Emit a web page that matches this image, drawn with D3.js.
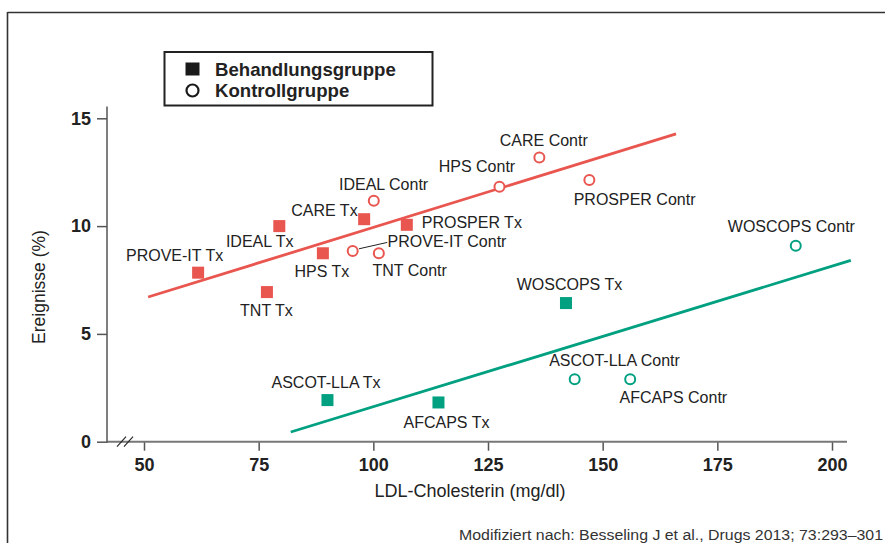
<!DOCTYPE html>
<html><head><meta charset="utf-8">
<script src="https://cdn.jsdelivr.net/npm/d3@7"></script>
<style>
html,body{margin:0;padding:0;background:#fff;}
svg{display:block;font-family:"Liberation Sans",Arial,Helvetica,sans-serif;}
</style></head>
<body><svg id="c" width="885" height="543"></svg>
<script>
// ---- data ----
const studies = ["PROVE-IT Tx","IDEAL Tx","TNT Tx","HPS Tx","CARE Tx","PROSPER Tx",
  "PROVE-IT Contr","TNT Contr","IDEAL Contr","HPS Contr","CARE Contr","PROSPER Contr",
  "WOSCOPS Tx","ASCOT-LLA Tx","AFCAPS Tx","ASCOT-LLA Contr","AFCAPS Contr","WOSCOPS Contr"];
const ldl =    [61.8, 79.5, 76.8, 89.0, 98.0, 107.3, 95.5, 101.2, 100.1, 127.5, 136.2, 147.1, 142.0, 90.0, 114.2, 143.9, 156.0, 192.1];
const events = [7.84, 10.0, 6.94, 8.74, 10.32, 10.06, 8.84, 8.74, 11.18, 11.83, 13.18, 12.14, 6.43, 1.93, 1.82, 2.90, 2.90, 9.09];
const groups = ["Tx","Tx","Tx","Tx","Tx","Tx","Contr","Contr","Contr","Contr","Contr","Contr",
  "Tx","Tx","Tx","Contr","Contr","Contr"];
const cohort = ["sec","sec","sec","sec","sec","sec","sec","sec","sec","sec","sec","sec",
  "prim","prim","prim","prim","prim","prim"];
const secLineX = [50.9, 166.0];
const secLineY = [6.71, 14.28];
const primLineX = [82.0, 204.1];
const primLineY = [0.45, 8.41];
const xTicks = [50, 75, 100, 125, 150, 175, 200];
const yTicks = [0, 5, 10, 15];
const legendLabels = ["Behandlungsgruppe", "Kontrollgruppe"];
const xTitle = "LDL-Cholesterin (mg/dl)";
const yTitle = "Ereignisse (%)";
const source = "Modifiziert nach: Besseling J et al., Drugs 2013; 73:293\u2013301";

// ---- layout (label offsets in px, relative to the point) ----
const labelOffsets = [[-23.5,-12],[-19.6,20.7],[-0.5,24],[-1,23.4],[-39.7,-3.6],[65,3.6],
  [94.3,-4.3],[30.8,22.4],[9.8,-10.7],[-22.5,-14.7],[4.4,-11.7],[45.2,24.7],
  [3.5,-13],[-1.4,-11.7],[8,25.4],[39.8,-13],[43.2,23.7],[-4.4,-14]];

const RED = "#e9554f", GREEN = "#00a081";
const colorOf = c => c === "sec" ? RED : GREEN;

const svg = d3.select("#c");
const x = d3.scaleLinear().domain([50, 200]).range([144, 832]);
const y = d3.scaleLinear().domain([0, 15]).range([441.7, 118.3]);

// frame
svg.append("line").attr("x1",7.5).attr("x2",885).attr("y1",12.5).attr("y2",12.5)
  .attr("stroke","#333").attr("stroke-width",1.6);
svg.append("line").attr("x1",7.5).attr("x2",7.5).attr("y1",12).attr("y2",543)
  .attr("stroke","#333").attr("stroke-width",1.6);

// axes
const x0 = 107, yBase = y(0);
const xAxis = d3.axisBottom(x).tickValues(xTicks).tickSize(9).tickSizeOuter(0).tickPadding(8);
const gx = svg.append("g").attr("transform",`translate(0,${yBase})`).call(xAxis);
gx.select(".domain").remove();
gx.selectAll(".tick line").attr("stroke","#555").attr("stroke-width",1.5);
gx.selectAll(".tick text").attr("font-size",18).attr("font-weight","bold").attr("fill","#222")
  .attr("font-family","Liberation Sans, Arial, sans-serif");
svg.append("line").attr("x1",x0).attr("x2",847).attr("y1",yBase).attr("y2",yBase)
  .attr("stroke","#777").attr("stroke-width",2);

const yAxis = d3.axisLeft(y).tickValues(yTicks).tickSize(10).tickSizeOuter(0).tickPadding(6);
const gy = svg.append("g").attr("transform",`translate(${x0},0)`).call(yAxis);
gy.select(".domain").remove();
gy.selectAll(".tick line").attr("stroke","#555").attr("stroke-width",1.5);
gy.selectAll(".tick text").attr("font-size",18).attr("font-weight","bold").attr("fill","#222")
  .attr("font-family","Liberation Sans, Arial, sans-serif");
svg.append("line").attr("x1",x0).attr("x2",x0).attr("y1",y(15.55)).attr("y2",yBase+1)
  .attr("stroke","#555").attr("stroke-width",1.5);

// axis break
[0, 7].forEach(o => {
  svg.append("line").attr("x1",117+o).attr("y1",yBase+5).attr("x2",126+o).attr("y2",yBase-5)
    .attr("stroke","#222").attr("stroke-width",1.1);
});

// titles
svg.append("text").attr("x",470).attr("y",497).attr("text-anchor","middle")
  .attr("font-size",18).attr("fill","#222").text(xTitle);
svg.append("text").attr("transform","translate(45,287) rotate(-90)").attr("text-anchor","middle")
  .attr("font-size",17.5).attr("fill","#222").text(yTitle);

// regression lines
svg.append("line").attr("x1",x(secLineX[0])).attr("y1",y(secLineY[0]))
  .attr("x2",x(secLineX[1])).attr("y2",y(secLineY[1])).attr("stroke",RED).attr("stroke-width",2.8);
svg.append("line").attr("x1",x(primLineX[0])).attr("y1",y(primLineY[0]))
  .attr("x2",x(primLineX[1])).attr("y2",y(primLineY[1])).attr("stroke",GREEN).attr("stroke-width",2.8);

// points
const pts = studies.map((s,i)=>({s, lx:ldl[i], ev:events[i], g:groups[i], c:cohort[i], off:labelOffsets[i]}));
const sq = 12;
svg.selectAll("rect.pt").data(pts.filter(d=>d.g==="Tx")).enter().append("rect")
  .attr("x",d=>x(d.lx)-sq/2).attr("y",d=>y(d.ev)-sq/2).attr("width",sq).attr("height",sq)
  .attr("fill",d=>colorOf(d.c));
svg.selectAll("circle.pt").data(pts.filter(d=>d.g==="Contr")).enter().append("circle")
  .attr("cx",d=>x(d.lx)).attr("cy",d=>y(d.ev)).attr("r",5).attr("fill","#fff")
  .attr("stroke",d=>colorOf(d.c)).attr("stroke-width",2);

// leader line for PROVE-IT Contr
const pc = pts.find(d=>d.s==="PROVE-IT Contr");
svg.append("line").attr("x1",x(pc.lx)+6.3).attr("y1",y(pc.ev)-2.3)
  .attr("x2",x(pc.lx)+34.6).attr("y2",y(pc.ev)-8.7).attr("stroke","#222").attr("stroke-width",1);

// labels
svg.selectAll("text.lbl").data(pts).enter().append("text").attr("class","lbl")
  .attr("x",d=>x(d.lx)+d.off[0]).attr("y",d=>y(d.ev)+d.off[1]).attr("text-anchor","middle")
  .attr("font-size",16).attr("fill","#222").text(d=>d.s);

// legend
const lg = svg.append("g");
lg.append("rect").attr("x",164.5).attr("y",52).attr("width",268).attr("height",53.5)
  .attr("fill","#fff").attr("stroke","#222").attr("stroke-width",2);
lg.append("rect").attr("x",185.5).attr("y",62.5).attr("width",14).attr("height",13).attr("fill","#1a1a1a");
lg.append("circle").attr("cx",192.5).attr("cy",90.5).attr("r",6).attr("fill","#fff")
  .attr("stroke","#1a1a1a").attr("stroke-width",2.2);
lg.selectAll("text").data(legendLabels).enter().append("text")
  .attr("x",215).attr("y",(d,i)=>75.5+i*21.5).attr("font-size",18.6).attr("font-weight","bold")
  .attr("fill","#222").text(d=>d);

// source
svg.append("text").attr("x",883).attr("y",540).attr("text-anchor","end")
  .attr("font-size",15.5).attr("textLength",424).attr("lengthAdjust","spacingAndGlyphs")
  .attr("fill","#333").text(source);
</script></body></html>
